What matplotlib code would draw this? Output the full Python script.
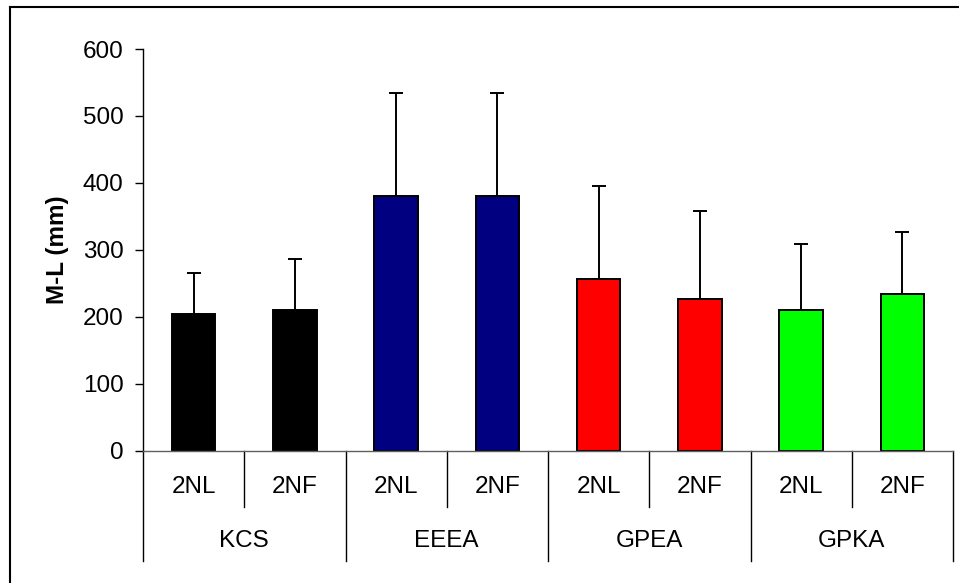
import numpy as np
import matplotlib
matplotlib.use('Agg')
import matplotlib.pyplot as plt
from matplotlib.lines import Line2D

plt.rcParams['font.family'] = ['Liberation Sans', 'DejaVu Sans']

#data
groups = ['KCS', 'EEEA', 'GPEA', 'GPKA']
subs = ['2NL', '2NF']
means = [204, 210, 380, 380, 257, 227, 210, 234]
errors = [62, 77, 155, 155, 138, 131, 98, 92]
group_colors = ['#000000', '#000080', '#FF0000', '#00FF00']

W, H = 959, 583
fig = plt.figure(figsize=(W / 100, H / 100), dpi=100)
ax = fig.add_axes([143 / W, (H - 450.7) / H, (953 - 143) / W, (450.7 - 49) / H])

x = np.arange(len(means))
colors = [c for c in group_colors for _ in subs]
ax.bar(x, means, width=0.43, color=colors, edgecolor='black', linewidth=1.4, zorder=2)
ax.errorbar(x, means, yerr=[np.zeros(len(errors)), errors], fmt='none',
            ecolor='black', elinewidth=1.4, capsize=5, capthick=1.4, zorder=3)

ax.set_xlim(-0.5, len(means) - 0.5)
ax.set_ylim(0, 600)
ax.set_yticks(range(0, 601, 100))
ax.tick_params(axis='y', direction='out', length=6, width=1, pad=8, labelsize=17.5)
ax.set_xticks([])
for s in ['top', 'right']:
    ax.spines[s].set_visible(False)
ax.spines['left'].set_linewidth(1)
ax.spines['bottom'].set_linewidth(1)
ax.spines['bottom'].set_color('#606060')
ax.set_ylabel('M-L (mm)', fontsize=17.5, fontweight='bold', labelpad=10)

# two-level category axis
trans = ax.get_xaxis_transform()
for i, lab in enumerate(subs * len(groups)):
    ax.text(i, -0.0896, lab, transform=trans, ha='center', va='center', fontsize=17.5)
for i in range(len(means) + 1):
    xp = i - 0.5
    bottom = -0.274 if i % len(subs) == 0 else -0.139
    ax.add_line(Line2D([xp, xp], [0, bottom], transform=trans, color='black',
                       linewidth=1, clip_on=False))
for g, name in enumerate(groups):
    ax.text(g * len(subs) + 0.5, -0.226, name, transform=trans, ha='center',
            va='center', fontsize=17.5)

# outer frame (only top and left visible in the crop)
fig.add_artist(Line2D([9.5 / W, 1], [1 - 6.5 / H, 1 - 6.5 / H], transform=fig.transFigure,
                      color='black', linewidth=1.5))
fig.add_artist(Line2D([9.5 / W, 9.5 / W], [0, 1 - 6.5 / H], transform=fig.transFigure,
                      color='black', linewidth=1.5))

fig.savefig('out.png', dpi=100)
